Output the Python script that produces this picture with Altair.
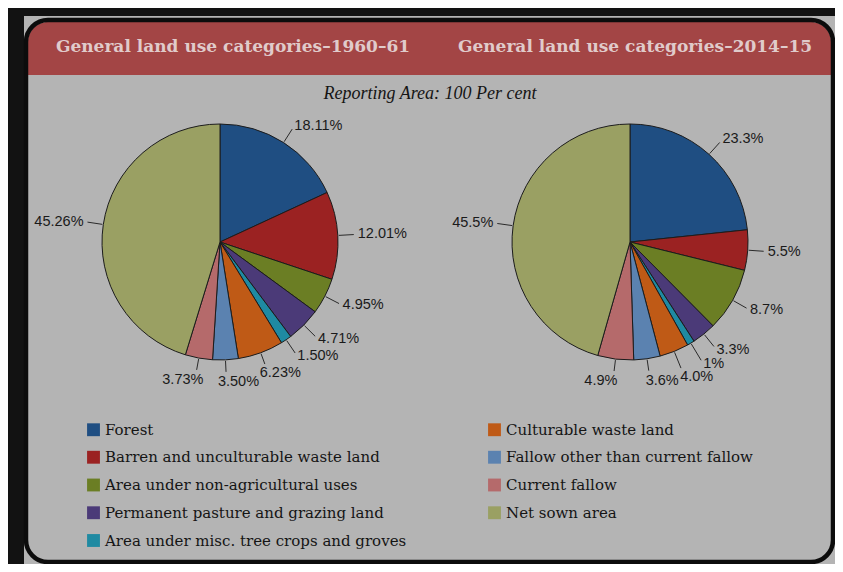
import altair as alt
import pandas as pd
import numpy as np

# ---------------- data ----------------
categories = [
    "Forest",
    "Barren and unculturable waste land",
    "Area under non-agricultural uses",
    "Permanent pasture and grazing land",
    "Area under misc. tree crops and groves",
    "Culturable waste land",
    "Fallow other than current fallow",
    "Current fallow",
    "Net sown area",
]
values_1960 = [18.11, 12.01, 4.95, 4.71, 1.50, 6.23, 3.50, 3.73, 45.26]
labels_1960 = ["18.11%", "12.01%", "4.95%", "4.71%", "1.50%", "6.23%", "3.50%", "3.73%", "45.26%"]
values_2014 = [23.3, 5.5, 8.7, 3.3, 1.0, 4.0, 3.6, 4.9, 45.5]
labels_2014 = ["23.3%", "5.5%", "8.7%", "3.3%", "1%", "4.0%", "3.6%", "4.9%", "45.5%"]
colors = ["#1f4e82", "#9b2222", "#6b7e24", "#4b3a78", "#1f8aa2",
          "#bf5a16", "#5b82b0", "#b56a6b", "#9aa063"]
titles = ["General land use categories\u20131960\u201361", "General land use categories\u20132014\u201315"]
subtitle = "Reporting Area: 100 Per cent"

# ---------------- layout ----------------
W, H = 827, 556
R = 118
CENTERS = [(212, 234), (622, 234)]
LABEL_FS = 14.5

xs = alt.Scale(domain=[0, W], nice=False, zero=False)
ys = alt.Scale(domain=[0, H], nice=False, zero=False, reverse=True)

color_scale = alt.Scale(domain=categories, range=colors)
legend = alt.Legend(orient="none", legendX=78, legendY=414, columns=2, title=None,
                    symbolType="square", symbolSize=165, symbolStrokeWidth=0,
                    labelFont="DejaVu Serif", labelFontSize=15, labelColor="#151515",
                    rowPadding=11.75, columnPadding=80, labelOffset=4, labelLimit=500)

CHAR_EM = {".": 0.278, "%": 0.889}


def text_width(s):
    return sum(CHAR_EM.get(ch, 0.556) for ch in s) * LABEL_FS


def pie_frame(vals, labs, cx, cy, r):
    """Label placement: radial leader lines, labels pushed outward if they collide."""
    v = np.array(vals, dtype=float)
    mid = (np.cumsum(v) - v / 2) / v.sum() * 2 * np.pi
    rows, boxes = [], []
    h = 13
    for i, a in enumerate(mid):
        s, c = np.sin(a), np.cos(a)
        w = text_width(labs[i])
        if s > 0.4:
            side, g = "left", 20
        elif s < -0.4:
            side, g = "right", 20
        else:
            side, g = "center", 22
        while True:
            ax, ay = cx + (r + g) * s, cy - (r + g) * c
            if side == "left":
                box = (ax, ax + w)
            elif side == "right":
                box = (ax - w, ax)
            else:
                ax += 12 * np.sign(s)
                box = (ax - w / 2, ax + w / 2)
            bb = (box[0], box[1], ay - h / 2, ay + h / 2)
            hit = any(bb[0] < o[1] and o[0] < bb[1] and bb[2] < o[3] and o[2] < bb[3]
                      for o in boxes)
            if not hit or g > 60:
                break
            g += 2
        boxes.append(bb)
        re = r + g - (4 if side != "center" else 10)
        rows.append(dict(category=categories[i], value=v[i], label=labs[i], order=i,
                         x1=cx + (r + 1) * s, y1=cy - (r + 1) * c,
                         x2=cx + re * s, y2=cy - re * c,
                         lx=ax, ly=ay, side=side))
    return pd.DataFrame(rows)


df60 = pie_frame(values_1960, labels_1960, *CENTERS[0], R)
df14 = pie_frame(values_2014, labels_2014, *CENTERS[1], R)
lab_df = pd.concat([df60, df14], ignore_index=True)

one = pd.DataFrame({"a": [0]})

# ---------------- decorations ----------------
gray_bg = alt.Chart(one).mark_rect(fill="#b4b4b4").encode(
    x=alt.value(16), x2=alt.value(W), y=alt.value(8), y2=alt.value(H))
panel = alt.Chart(one).mark_rect(fill="#b4b4b4", cornerRadius=22).encode(
    x=alt.value(18), x2=alt.value(825), y=alt.value(12), y2=alt.value(554))
header = alt.Chart(one).mark_rect(fill="#a34545", cornerRadiusTopLeft=20,
                                  cornerRadiusTopRight=20).encode(
    x=alt.value(20), x2=alt.value(823), y=alt.value(14), y2=alt.value(67))
panel_border = alt.Chart(one).mark_rect(fill=None, stroke="#0c0c0c", strokeWidth=4.5,
                                        cornerRadius=22).encode(
    x=alt.value(18), x2=alt.value(825), y=alt.value(12), y2=alt.value(554))

title_layers = []
for t, tx in zip(titles, [225, 627]):
    title_layers.append(
        alt.Chart(pd.DataFrame({"t": [t]})).mark_text(
            font="DejaVu Serif", fontWeight="bold", fontSize=17, color="#e0cbcb",
            align="center", baseline="middle").encode(
            x=alt.value(tx), y=alt.value(39), text="t:N"))

sub = alt.Chart(pd.DataFrame({"t": [subtitle]})).mark_text(
    font="Liberation Serif", fontStyle="italic", fontSize=18, color="#151515",
    align="center", baseline="middle").encode(x=alt.value(422), y=alt.value(86), text="t:N")

# ---------------- pies ----------------
pies = []
for d, (cx, cy) in zip([df60, df14], CENTERS):
    pies.append(
        alt.Chart(d).mark_arc(outerRadius=R, stroke="#1c1c1c", strokeWidth=1).encode(
            theta=alt.Theta("value:Q", stack=True),
            color=alt.Color("category:N", scale=color_scale, legend=legend),
            order=alt.Order("order:Q"),
            x=alt.value(cx), y=alt.value(cy)))

leaders = alt.Chart(lab_df).mark_rule(color="#2a2a2a", strokeWidth=1).encode(
    x=alt.X("x1:Q", scale=xs, axis=None), y=alt.Y("y1:Q", scale=ys, axis=None),
    x2="x2:Q", y2="y2:Q")

label_layers = []
for side in ["left", "center", "right"]:
    label_layers.append(
        alt.Chart(lab_df).transform_filter(alt.datum.side == side).mark_text(
            font="Liberation Sans", fontSize=LABEL_FS, color="#1a1a1a",
            align=side, baseline="middle").encode(
            x=alt.X("lx:Q", scale=xs, axis=None), y=alt.Y("ly:Q", scale=ys, axis=None),
            text="label:N"))

chart = alt.layer(
    gray_bg, panel, header, panel_border, *title_layers, sub, *pies, leaders, *label_layers
).resolve_scale(theta="independent").properties(
    width=W, height=H, padding=0, background="#121212",
    autosize=alt.AutoSizeParams(type="none"),
).configure_view(stroke=None)

chart.save("out.html", embed_options={"renderer": "svg", "actions": False})
